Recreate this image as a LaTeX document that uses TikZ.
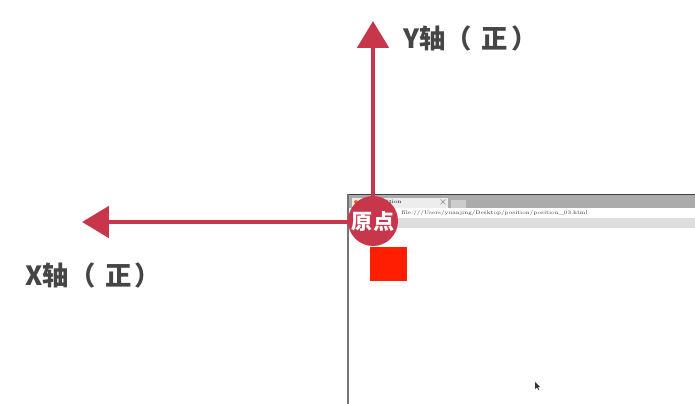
\documentclass[tikz,border=0pt]{standalone}
\usepackage{xcolor}
\usepackage{tikz}
\usetikzlibrary{arrows.meta}
\usepackage{fontspec}
\newfontfamily\cjk{Noto Sans CJK SC}
\definecolor{cremisi}{HTML}{C8364B}
\definecolor{grigioscuro}{HTML}{454545}
\definecolor{barra}{HTML}{ABABAB}
\definecolor{segnalibri}{HTML}{DDDDDD}
\definecolor{rosso}{HTML}{FF1E00}

\begin{document}
\begin{tikzpicture}[x=0.02cm, y=-0.02cm,
    asse/.style={line width=2.8pt, color=cremisi, -{Triangle[length=15.3pt,width=17.6pt]}},
    etichetta/.style={anchor=west, inner sep=0pt, text=grigioscuro, font=\cjk\bfseries\fontsize{15}{18}\selectfont},
    origine/.style={circle, fill=cremisi, minimum size=1cm, inner sep=0pt, text=white, font=\cjk\bfseries\fontsize{12}{14}\selectfont}]
        % sfondo e margini
        \fill[white] (0,0) rectangle (695,404);
        \useasboundingbox (0,0) rectangle (695,404);
        % finestra del browser
        \fill[white] (348,194) rectangle (695,404);
        \fill[barra] (348,195) rectangle (695,208);
        \fill[segnalibri] (348,218) rectangle (695,228);
        \draw[line width=1pt, color=black!75] (348,194.5) -- (695,194.5);
        \draw[line width=0.6pt, color=black!55] (348,194) -- (348,404);
        % schede
        \fill[black!7] (352,198) rectangle (448,208);
        \fill[black!20] (451,200) rectangle (466,208);
        \fill[orange!80!red] (356,202) circle (2);
        \node[anchor=west, inner sep=0pt, font=\fontsize{3}{3}\selectfont] (scheda) at (376,202.5) {position};
        \node[inner sep=0pt, font=\fontsize{3.5}{3.5}\selectfont, text=black!60] (chiudi) at (443,202.5) {$\times$};
        \node[anchor=west, inner sep=0pt, font=\fontsize{3}{3}\selectfont, text=black!80] (url) at (401,213)
        {file:///Users/yuanjing/Desktop/position/position\_03.html};
        % quadrato rosso
        \fill[rosso] (370,247) rectangle (407,281);
        % cursore
        \fill[black!80] (535,382) -- (535,389) -- (537,387.5) -- (538.5,390) -- (539,389.5) -- (538,387) -- (540,387) -- cycle;
        % assi
        \coordinate (centro) at (373,221);
        \coordinate (puntay) at (373,21);
        \coordinate (puntax) at (82,222);
        \draw[asse] (centro) -- (puntay);
        \draw[asse] (centro |- puntax) -- (puntax);
        \node[origine] (o) at (centro) {原点};
        % etichette
        \node[etichetta] (ey) at (403,38) {Y轴（\hspace{5.5pt}正\hspace{2pt}）};
        \node[etichetta] (ex) at (25,275) {X轴（\hspace{5.5pt}正\hspace{2pt}）};
    \end{tikzpicture}
\end{document}
